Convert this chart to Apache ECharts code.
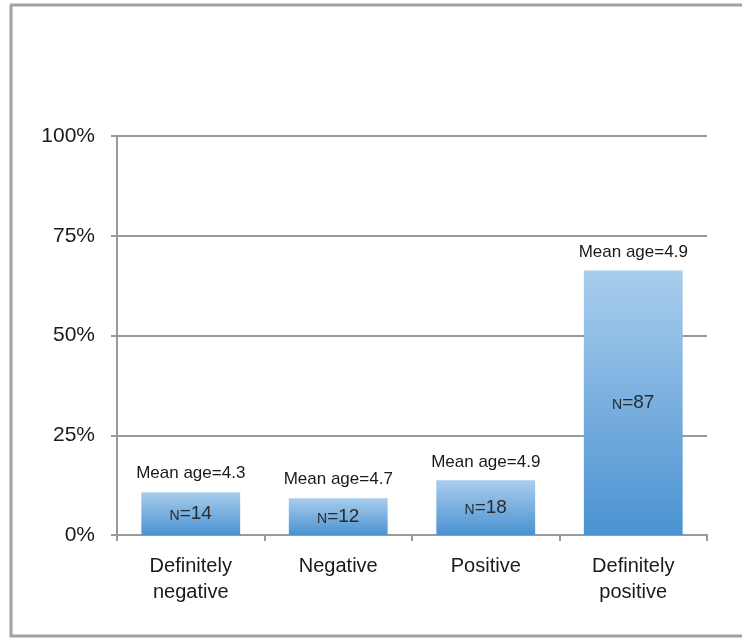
<!DOCTYPE html>
<html>
<head>
<meta charset="utf-8">
<script src="https://cdn.jsdelivr.net/npm/echarts@6/dist/echarts.min.js"></script>
<style>
html,body{margin:0;padding:0;background:#fff;}
#c{width:742px;height:639px;}
</style>
</head>
<body>
<div id="c"></div>
<script>
const categories = ['Definitely\nnegative', 'Negative', 'Positive', 'Definitely\npositive'];
const percentValues = [10.7, 9.2, 13.7, 66.3];
const counts = [14, 12, 18, 87];
const meanAges = ['4.3', '4.7', '4.9', '4.9'];
const yTicks = [0, 25, 50, 75, 100];

const FONT = 'Arial, "Liberation Sans", sans-serif';
const chart = echarts.init(document.getElementById('c'));
const grad = new echarts.graphic.LinearGradient(0, 0, 0, 1, [
  {offset: 0, color: '#a9cdec'},
  {offset: 1, color: '#4a92d1'}
]);
chart.setOption({
  animation: false,
  backgroundColor: '#fff',
  grid: {left: 117, right: 35, top: 136, bottom: 104, containLabel: false},
  xAxis: {
    type: 'category',
    data: categories,
    axisLine: {show: true, lineStyle: {color: '#9a9a9a', width: 2}},
    axisTick: {show: true, alignWithLabel: false, length: 6, lineStyle: {color: '#9a9a9a', width: 2}},
    axisLabel: {
      color: '#1a1a1a', fontSize: 20, lineHeight: 26, margin: 18,
      fontFamily: FONT
    }
  },
  yAxis: {
    type: 'value', min: 0, max: 100, interval: 25,
    axisLine: {show: true, lineStyle: {color: '#9a9a9a', width: 2}},
    axisTick: {show: true, length: 6, lineStyle: {color: '#9a9a9a', width: 2}},
    splitLine: {show: true, lineStyle: {color: '#9a9a9a', width: 2}},
    axisLabel: {
      color: '#1a1a1a', fontSize: 21, margin: 22,
      fontFamily: FONT,
      formatter: v => yTicks.includes(v) ? v + '%' : ''
    }
  },
  series: [
    {
      type: 'bar',
      data: percentValues,
      barCategoryGap: '33%',
      itemStyle: {color: grad},
      label: {
        show: true, position: 'top', distance: 10,
        color: '#1a1a1a', fontSize: 17,
        fontFamily: FONT,
        formatter: p => 'Mean age=' + meanAges[p.dataIndex]
      }
    },
    {
      type: 'bar',
      data: percentValues,
      barGap: '-100%',
      barCategoryGap: '33%',
      itemStyle: {color: 'transparent'},
      silent: true,
      label: {
        show: true, position: 'inside',
        formatter: p => '{n|N}{v|=' + counts[p.dataIndex] + '}',
        rich: {
          n: {fontSize: 14, color: '#2a2a2a', fontFamily: FONT, verticalAlign: 'bottom', padding: [4, 0, 0, 0]},
          v: {fontSize: 19, color: '#2a2a2a', fontFamily: FONT}
        }
      }
    }
  ],
  graphic: [
    {type: 'line', shape: {x1: 10, y1: 5, x2: 742, y2: 5}, style: {stroke: '#a2a2a2', lineWidth: 3}},
    {type: 'line', shape: {x1: 11, y1: 5, x2: 11, y2: 637}, style: {stroke: '#a2a2a2', lineWidth: 3}},
    {type: 'line', shape: {x1: 10, y1: 636, x2: 742, y2: 636}, style: {stroke: '#a2a2a2', lineWidth: 3}}
  ]
});
</script>
</body>
</html>
